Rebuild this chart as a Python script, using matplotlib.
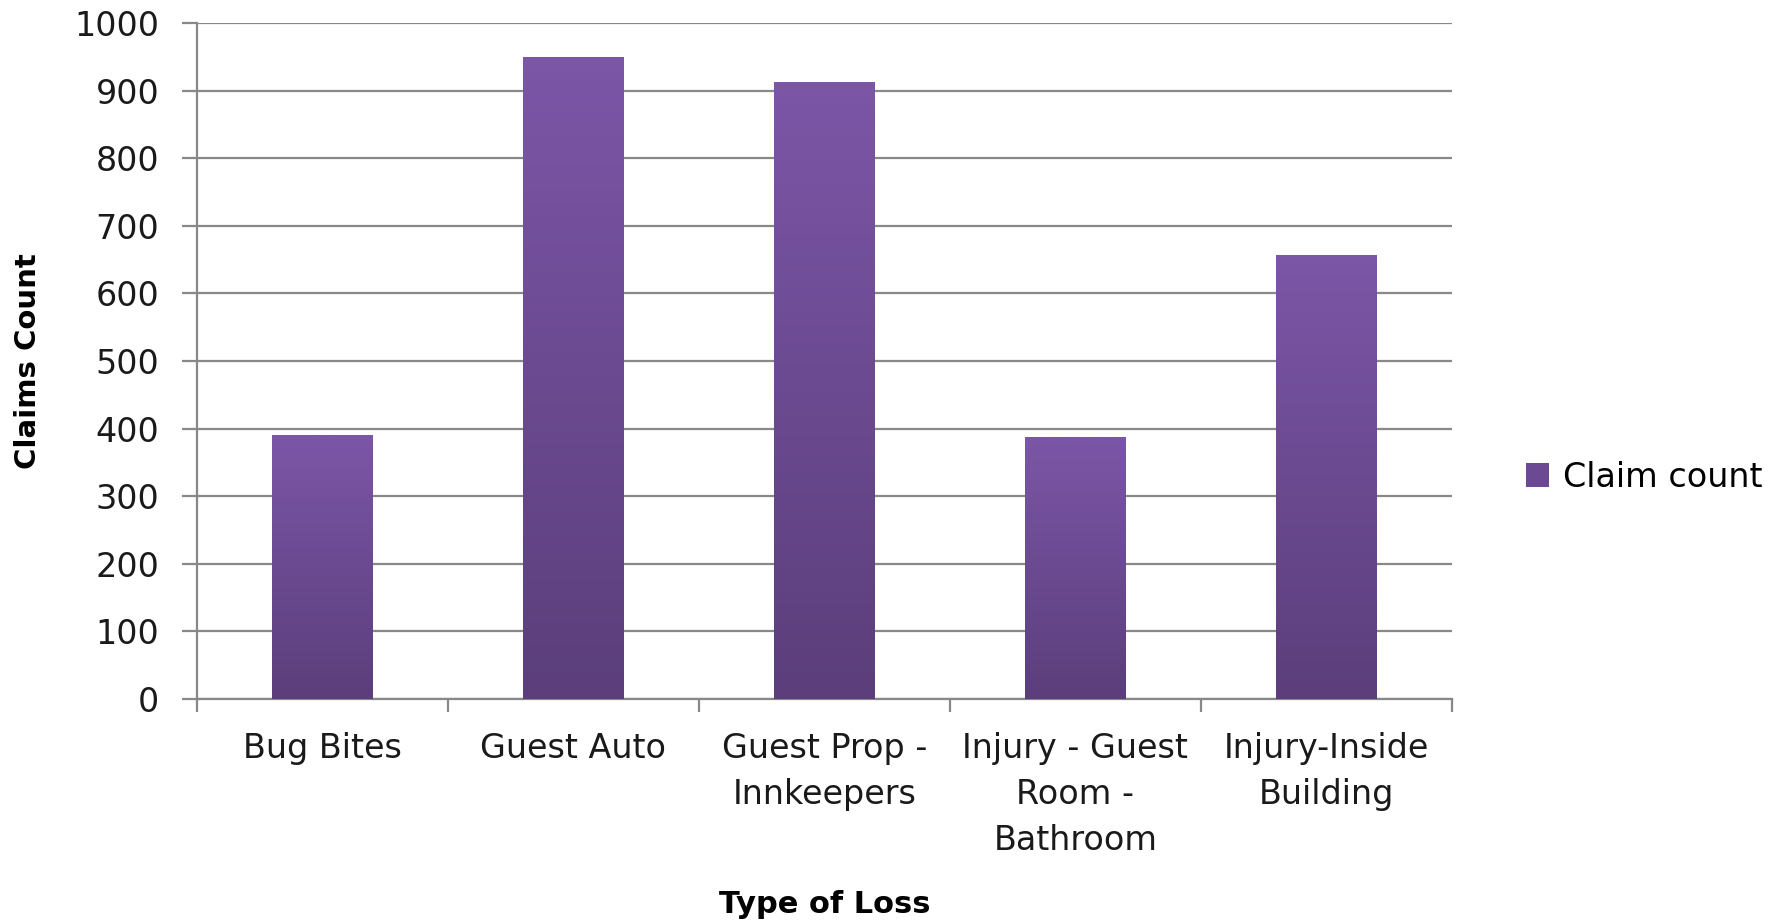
import numpy as np
import matplotlib
matplotlib.use("Agg")
import matplotlib.pyplot as plt
from matplotlib.colors import LinearSegmentedColormap
from matplotlib.patches import Patch

categories = ["Bug Bites", "Guest Auto", "Guest Prop -\nInnkeepers",
              "Injury - Guest\nRoom -\nBathroom", "Injury-Inside\nBuilding"]
claim_count = [390, 950, 913, 387, 657]
y_ticks = [0, 100, 200, 300, 400, 500, 600, 700, 800, 900, 1000]

plt.rcParams['font.family'] = ['DejaVu Sans']
grid_col = '#888888'

fig = plt.figure(figsize=(17.87, 9.21), dpi=100)
ax = fig.add_axes([0.1102, 0.241, 0.7023, 0.734])

x = np.arange(len(categories))
bars = ax.bar(x, claim_count, width=0.4, color='none', zorder=3)

# vertical gradient for each bar (dark at bottom, lighter on top)
cmap = LinearSegmentedColormap.from_list('purp', ['#5B3E7B', '#7C56A7'])
grad = np.linspace(0, 1, 256).reshape(-1, 1)
for b in bars:
    x0, w, h = b.get_x(), b.get_width(), b.get_height()
    im = ax.imshow(grad, cmap=cmap, origin='lower', aspect='auto',
                   extent=(x0, x0 + w, 0, h), zorder=3)
    im.set_clip_path(b)

ax.set_xlim(-0.5, len(categories) - 0.5)
ax.set_ylim(0, 1000)
ax.set_yticks(y_ticks)
ax.set_xticks(x)
ax.set_xticklabels(categories, fontsize=24, linespacing=1.5)
ax.set_xticks(np.arange(-0.5, len(categories)), minor=True)

ax.yaxis.grid(True, color=grid_col, linewidth=1.6, zorder=0)
ax.set_axisbelow(True)
for s in ['top', 'right']:
    ax.spines[s].set_visible(False)
for s in ['left', 'bottom']:
    ax.spines[s].set_color(grid_col)
    ax.spines[s].set_linewidth(1.6)

ax.tick_params(axis='y', length=11, width=1.6, color=grid_col, pad=16,
               labelsize=24, labelcolor='#1a1a1a')
ax.tick_params(axis='x', which='major', length=0, pad=24, labelcolor='#1a1a1a')
ax.tick_params(axis='x', which='minor', length=9, width=1.6, color=grid_col)

ax.set_ylabel('Claims Count', fontsize=21, fontweight='bold')
ax.yaxis.set_label_coords(-0.1235, 0.5)
ax.set_xlabel('Type of Loss', fontsize=22, fontweight='bold')
ax.xaxis.set_label_coords(0.5, -0.282)

handle = Patch(facecolor='#6B4A93', edgecolor='none')
ax.legend([handle], ['Claim count'], loc='center left',
          bbox_to_anchor=(1.035, 0.328), frameon=False, fontsize=24,
          handlelength=0.7, handleheight=0.7, handletextpad=0.4)

plt.savefig('out.png', dpi=100)
